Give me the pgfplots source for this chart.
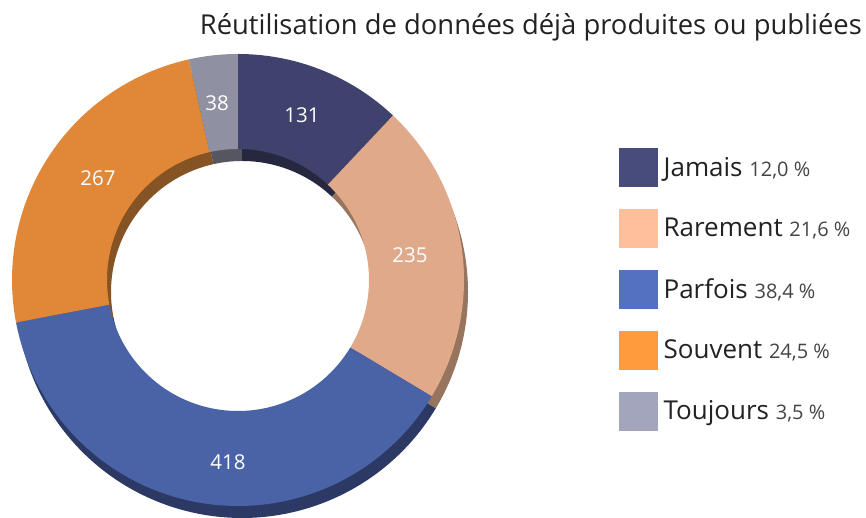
\documentclass[border=0pt]{standalone}
\usepackage{pgfplots}
\pgfplotsset{compat=1.18}
\usepackage{pgfplotstable}
\usepackage{fontspec}
\setmainfont{Open Sans}

\definecolor{cJ}{HTML}{40426E}
\definecolor{cR}{HTML}{E0A98A}
\definecolor{cP}{HTML}{4A62A6}
\definecolor{cS}{HTML}{E08838}
\definecolor{cT}{HTML}{8F91A3}
\definecolor{dJ}{HTML}{262840}
\definecolor{dR}{HTML}{96745E}
\definecolor{dP}{HTML}{2D3965}
\definecolor{dS}{HTML}{855324}
\definecolor{dT}{HTML}{56565F}
\definecolor{lJ}{HTML}{484C7C}
\definecolor{lR}{HTML}{FFBF9C}
\definecolor{lP}{HTML}{5470C0}
\definecolor{lS}{HTML}{FF9A3D}
\definecolor{lT}{HTML}{A3A5BC}
\definecolor{txt}{HTML}{222222}
\definecolor{txtb}{HTML}{444444}

\pgfplotstableread{
name value
Jamais 131
Rarement 235
Parfois 418
Souvent 267
Toujours 38
}\donut

\newcommand\seg[5]{%
\addplot[forget plot, fill=#3, draw=none, domain=0:2.0083333, samples=242, variable=\t]
 ({238+#4+ringrad(\t)*cos(ringang(\t,#1,#2))},{237+#5+ringrad(\t)*sin(ringang(\t,#1,#2))});
}

\begin{document}
\begin{tikzpicture}
\pgfplotstablegetelem{0}{value}\of\donut \let\vA\pgfplotsretval
\pgfplotstablegetelem{1}{value}\of\donut \let\vB\pgfplotsretval
\pgfplotstablegetelem{2}{value}\of\donut \let\vC\pgfplotsretval
\pgfplotstablegetelem{3}{value}\of\donut \let\vD\pgfplotsretval
\pgfplotstablegetelem{4}{value}\of\donut \let\vE\pgfplotsretval
\pgfmathsetmacro\tot{\vA+\vB+\vC+\vD+\vE}
\pgfmathsetmacro\kk{360/\tot}
\pgfmathsetmacro\aA{90}
\pgfmathsetmacro\aB{\aA-\vA*\kk}
\pgfmathsetmacro\aC{\aB-\vB*\kk}
\pgfmathsetmacro\aD{\aC-\vC*\kk}
\pgfmathsetmacro\aE{\aD-\vD*\kk}
\pgfmathsetmacro\aF{\aE-\vE*\kk}
\begin{axis}[
  scale only axis, width=866pt, height=517pt,
  xmin=0, xmax=866, ymin=0, ymax=517,
  axis line style={draw=none}, ticks=none, clip=false,
  declare function={
    ringang(\s,\angHi,\angLo)=\angHi-(\angHi-\angLo)*min(\s,1)+(\angHi-\angLo)*max(\s-1-0.0083333,0);
    ringrad(\s)=226-95*min(max((\s-1)/0.0083333,0),1);
  },
  legend style={at={(axis cs:619,369)}, anchor=north west, draw=none, fill=none,
    inner sep=0pt, row sep=22.5pt, cells={anchor=west},
    /tikz/every odd column/.append style={column sep=4pt},
    font=\fontsize{26}{26}\selectfont\color{txt}},
  legend image code/.code={\fill[#1] (0pt,-19pt) rectangle (38pt,19pt);},
]
% side (depth) of the ring
\seg{\aA}{\aB}{dJ}{4}{-12}
\seg{\aB}{\aC}{dR}{4}{-12}
\seg{\aC}{\aD}{dP}{4}{-12}
\seg{\aD}{\aE}{dS}{4}{-12}
\seg{\aE}{\aF}{dT}{4}{-12}
% top faces
\seg{\aA}{\aB}{cJ}{0}{0}
\seg{\aB}{\aC}{cR}{0}{0}
\seg{\aC}{\aD}{cP}{0}{0}
\seg{\aD}{\aE}{cS}{0}{0}
\seg{\aE}{\aF}{cT}{0}{0}

\addlegendimage{lJ}
\addlegendentry{Jamais {\fontsize{20}{20}\selectfont\color{txtb}12,0~\%}}
\addlegendimage{lR}
\addlegendentry{Rarement {\fontsize{20}{20}\selectfont\color{txtb}21,6~\%}}
\addlegendimage{lP}
\addlegendentry{Parfois {\fontsize{20}{20}\selectfont\color{txtb}38,4~\%}}
\addlegendimage{lS}
\addlegendentry{Souvent {\fontsize{20}{20}\selectfont\color{txtb}24,5~\%}}
\addlegendimage{lT}
\addlegendentry{Toujours {\fontsize{20}{20}\selectfont\color{txtb}3,5~\%}}

\begin{scope}[every node/.style={text=white, font=\fontsize{20.5}{20.5}\selectfont}]
\node at (axis cs:302,402) {131};
\node at (axis cs:410,262) {235};
\node at (axis cs:228,55) {418};
\node at (axis cs:98,339) {267};
\node at (axis cs:217,414) {38};
\end{scope}
\node[anchor=east, text=txt, font=\fontsize{27.4}{27.4}\selectfont, inner sep=0pt]
  at (axis cs:862,490) {Réutilisation de données déjà produites ou publiées};
\end{axis}
\end{tikzpicture}
\end{document}
